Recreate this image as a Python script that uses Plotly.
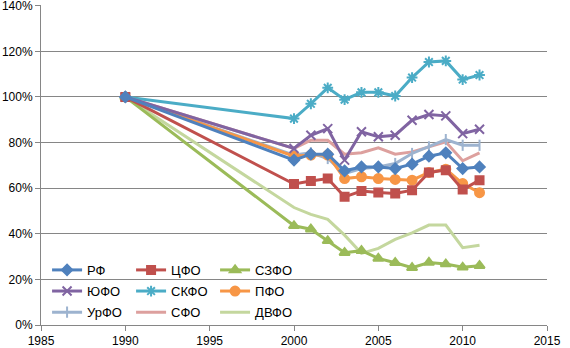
import plotly.graph_objects as go

years = [1990, 2000, 2001, 2002, 2003, 2004, 2005, 2006, 2007, 2008, 2009, 2010, 2011]

rf   = [100, 72.3, 74.9, 74.9, 67.6, 69.3, 69.3, 68.6, 70.5, 74.0, 75.5, 68.6, 69.3]
cfo  = [100, 61.8, 63.1, 64.2, 56.2, 58.7, 58.1, 57.7, 59.1, 66.9, 67.9, 59.4, 63.5]
szfo = [100, 43.5, 42.0, 36.9, 31.7, 32.6, 29.2, 27.3, 25.1, 27.4, 26.7, 25.3, 26.0]
yufo = [100, 77.4, 83.2, 86.1, 72.3, 84.7, 82.5, 83.2, 89.8, 92.3, 91.7, 83.9, 85.8]
skfo = [100, 90.5, 97.0, 104.0, 98.8, 102.0, 102.0, 100.4, 108.5, 115.3, 115.8, 107.6, 109.6]
pfo  = [100, 74.0, 74.5, 74.5, 64.2, 65.0, 64.2, 63.8, 63.5, 66.9, 68.3, 62.0, 58.0]
urfo = [100, 74.5, 75.5, 73.0, 66.4, 68.6, 69.3, 70.8, 75.2, 78.1, 81.3, 78.8, 78.8]
sfo  = [100, 77.4, 81.0, 81.0, 74.9, 75.5, 77.7, 74.9, 75.9, 78.1, 80.3, 72.0, 75.5]
dvfo = [100, 51.5, 48.5, 46.3, 39.4, 31.4, 33.6, 37.5, 40.4, 43.8, 43.8, 33.9, 35.0]

x_ticks = [1985, 1990, 1995, 2000, 2005, 2010, 2015]
y_ticks = [0, 20, 40, 60, 80, 100, 120, 140]

series = [
    # name, values, color, marker symbol, marker size, legend group
    ("РФ", rf, "#4F81BD", "diamond", 8, "legend"),
    ("ЦФО", cfo, "#C0504D", "square", 8, "legend"),
    ("СЗФО", szfo, "#9BBB59", "triangle-up", 9, "legend"),
    ("ЮФО", yufo, "#8064A2", "x-thin-open", 9, "legend2"),
    ("СКФО", skfo, "#4BACC6", "asterisk-open", 9, "legend2"),
    ("ПФО", pfo, "#F79646", "circle", 9, "legend2"),
    ("УрФО", urfo, "#9DB3CF", "line-ns-open", 8, "legend3"),
    ("СФО", sfo, "#DDA09E", None, 0, "legend3"),
    ("ДВФО", dvfo, "#C4D79E", None, 0, "legend3"),
]

fig = go.Figure()
for name, vals, color, sym, size, lg in series:
    if sym:
        mode = "lines+markers"
        marker = dict(symbol=sym, size=size, color=color,
                      line=dict(color=color, width=2))
    else:
        mode = "lines"
        marker = None
    fig.add_trace(go.Scatter(
        x=years, y=vals, name=name, mode=mode,
        line=dict(color=color, width=3),
        marker=marker, legend=lg,
    ))

fig.data = tuple(reversed(fig.data))

legend_common = dict(
    orientation="h", x=0.012, xanchor="left", yanchor="middle",
    bgcolor="rgba(0,0,0,0)", entrywidth=39, entrywidthmode="pixels",
    font=dict(family="Liberation Sans, Arial", size=13, color="#000000"),
    itemwidth=30, tracegroupgap=0, traceorder="reversed",
)

fig.update_layout(
    width=570, height=348,
    margin=dict(l=41, r=23, t=5, b=23),
    plot_bgcolor="white", paper_bgcolor="white",
    showlegend=True,
    legend=dict(legend_common, y=0.172),
    legend2=dict(legend_common, y=0.106),
    legend3=dict(legend_common, y=0.040),
    font=dict(family="Liberation Sans, Arial", size=12, color="#000000"),
)

fig.update_xaxes(
    range=[1985, 2015], tickvals=x_ticks, ticktext=[str(v) for v in x_ticks],
    showgrid=False, showline=True, linecolor="#868686", linewidth=1,
    ticks="outside", ticklen=5, tickcolor="#868686", zeroline=False,
    tickfont=dict(size=12, color="#000000"), automargin=False,
)
fig.update_yaxes(
    range=[0, 140.3], tickvals=y_ticks, ticktext=[f"{v}%" for v in y_ticks],
    showgrid=True, gridcolor="#868686", gridwidth=1,
    showline=True, linecolor="#868686", linewidth=1,
    ticks="outside", ticklen=5, tickcolor="#868686", zeroline=False,
    tickfont=dict(size=12, color="#000000"), ticklabeloverflow="allow",
    automargin=False,
)

fig.write_html("out.html")
